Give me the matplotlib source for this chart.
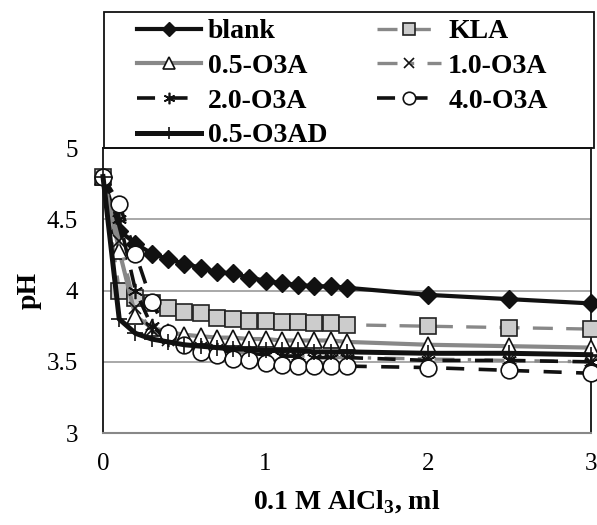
import matplotlib
matplotlib.use("Agg")
from matplotlib import pyplot as plt
from matplotlib.patches import Rectangle

plt.rcParams['font.family'] = ['Liberation Serif', 'DejaVu Serif']
plt.rcParams['mathtext.fontset'] = 'custom'
plt.rcParams['mathtext.rm'] = 'Liberation Serif'
plt.rcParams['mathtext.bf'] = 'Liberation Serif:bold'

# titration volume, ml
vol = [0, 0.1, 0.2, 0.3, 0.4, 0.5, 0.6, 0.7, 0.8, 0.9, 1.0,
       1.1, 1.2, 1.3, 1.4, 1.5, 2.0, 2.5, 3.0]

blank = [4.80, 4.42, 4.33, 4.26, 4.22, 4.19, 4.16, 4.13, 4.12, 4.09, 4.07,
         4.05, 4.04, 4.03, 4.03, 4.02, 3.97, 3.94, 3.91]
kla = [4.80, 4.00, 3.95, 3.91, 3.88, 3.85, 3.84, 3.81, 3.80, 3.79, 3.79,
       3.78, 3.78, 3.77, 3.77, 3.76, 3.75, 3.74, 3.73]
o3a_05 = [4.80, 4.28, 3.82, 3.74, 3.71, 3.69, 3.68, 3.67, 3.67, 3.66, 3.66,
          3.65, 3.65, 3.65, 3.65, 3.64, 3.62, 3.61, 3.60]
o3a_10 = [4.80, 4.35, 3.88, 3.72, 3.65, 3.62, 3.60, 3.58, 3.57, 3.56, 3.55,
          3.55, 3.54, 3.54, 3.53, 3.53, 3.52, 3.51, 3.50]
o3a_20 = [4.80, 4.50, 4.00, 3.75, 3.66, 3.62, 3.60, 3.58, 3.57, 3.56, 3.55,
          3.54, 3.54, 3.53, 3.53, 3.53, 3.51, 3.51, 3.50]
o3a_40 = [4.80, 4.61, 4.26, 3.92, 3.70, 3.62, 3.57, 3.55, 3.52, 3.51, 3.49,
          3.48, 3.47, 3.47, 3.47, 3.47, 3.46, 3.44, 3.42]
o3ad_05 = [4.80, 3.80, 3.70, 3.66, 3.64, 3.62, 3.61, 3.60, 3.59, 3.59, 3.58,
           3.58, 3.58, 3.57, 3.57, 3.57, 3.56, 3.56, 3.55]

fig = plt.figure(figsize=(5.97, 5.25), dpi=100)
ax = fig.add_axes([0.1725, 0.175, 0.817, 0.543])

h_blank, = ax.plot(vol, blank, color='#111111', lw=3, marker='D', ms=9,
                   mfc='#111111', mec='#111111', clip_on=False, label='blank', zorder=3)
h_kla, = ax.plot(vol, kla, color='#888888', lw=2.4, dashes=(6, 4), marker='s', ms=12,
                 mfc='#cccccc', mec='#222222', mew=1.2, clip_on=False, label='KLA', zorder=3)
h_05, = ax.plot(vol, o3a_05, color='#888888', lw=3, marker='^', ms=12,
                mfc='white', mec='#111111', mew=1.2, clip_on=False, label='0.5-O3A', zorder=3)
h_10, = ax.plot(vol, o3a_10, color='#888888', lw=2.4, dashes=(6, 4, 1, 4), marker='x', ms=9,
                mfc='none', mec='#111111', mew=1.2, clip_on=False, label='1.0-O3A', zorder=3)
h_20, = ax.plot(vol, o3a_20, color='#111111', lw=2.6, dashes=(5, 4), marker=(6, 2, 0), ms=11,
                mec='#111111', mew=1.2, clip_on=False, label='2.0-O3A', zorder=3)
h_40, = ax.plot(vol, o3a_40, color='#111111', lw=2.6, dashes=(5, 4), marker='o', ms=12,
                mfc='white', mec='#111111', mew=1.2, clip_on=False, label='4.0-O3A', zorder=3)
h_ad, = ax.plot(vol, o3ad_05, color='#111111', lw=3.6, marker='+', ms=11,
                mec='#111111', mew=1.2, clip_on=False, label='0.5-O3AD', zorder=4)

ax.set_xlim(0, 3)
ax.set_ylim(3, 5)
ax.set_xticks([0, 1, 2, 3])
ax.set_yticks([3, 3.5, 4, 4.5, 5])
ax.set_yticklabels(['3', '3.5', '4', '4.5', '5'])
ax.tick_params(length=0, labelsize=18, pad=18)
ax.tick_params(axis='x', pad=14)
ax.yaxis.grid(True, color='#999999', lw=1.2)
ax.set_axisbelow(True)

for s in ['left', 'right', 'top']:
    ax.spines[s].set_color('#111111')
    ax.spines[s].set_linewidth(1.3)
ax.spines['bottom'].set_color('#888888')
ax.spines['bottom'].set_linewidth(1.5)

ax.set_xlabel('0.1 M AlCl$_\\mathbf{3}$, ml', fontsize=20, fontweight='bold', labelpad=10)
ax.set_ylabel('pH', fontsize=20, fontweight='bold', labelpad=4)

# legend box above the plot area, entries read row by row
order = [h_blank, h_05, h_20, h_ad, h_kla, h_10, h_40]
leg = fig.legend(handles=order, loc='upper left',
                 bbox_to_anchor=(137 / 597, 1 - 19 / 525), ncol=2,
                 prop={'weight': 'bold', 'size': 20}, frameon=False,
                 handlelength=2.3, handletextpad=0.25, labelspacing=0.33,
                 columnspacing=1.8, borderpad=0, borderaxespad=0, markerscale=0.75)
fig.add_artist(Rectangle((104 / 597, 1 - 148 / 525), 490 / 597, 136 / 525,
                         transform=fig.transFigure, fill=False,
                         edgecolor='#111111', lw=1.3))

fig.savefig('out.png', dpi=100)
